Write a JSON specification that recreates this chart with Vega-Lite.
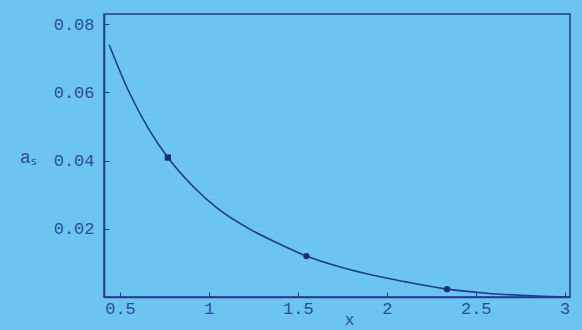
{
  "$schema": "https://vega.github.io/schema/vega-lite/v6.json",
  "width": 466,
  "height": 283,
  "autosize": {"type": "none"},
  "padding": {"left": 104, "top": 14, "right": 12, "bottom": 33},
  "background": "#6cc5f0",
  "config": {
    "view": {"stroke": "#1e3c8c", "strokeWidth": 1.5},
    "font": "Liberation Mono"
  },
  "layer": [
    {
      "data": {"values": [
        {"x": 0.439, "y": 0.0740},
        {"x": 0.55, "y": 0.0602},
        {"x": 0.66, "y": 0.0494},
        {"x": 0.769, "y": 0.0409},
        {"x": 0.9, "y": 0.0330},
        {"x": 1.05, "y": 0.0259},
        {"x": 1.229, "y": 0.0199},
        {"x": 1.411, "y": 0.0152},
        {"x": 1.548, "y": 0.0120},
        {"x": 1.743, "y": 0.0087},
        {"x": 1.910, "y": 0.0065},
        {"x": 2.099, "y": 0.0045},
        {"x": 2.339, "y": 0.0023},
        {"x": 2.562, "y": 0.0011},
        {"x": 2.843, "y": 0.0003},
        {"x": 3.03, "y": 0.0}
      ]},
      "mark": {"type": "line", "color": "#1e3c8c", "strokeWidth": 1.6, "interpolate": "monotone"},
      "encoding": {
        "x": {
          "field": "x", "type": "quantitative",
          "scale": {"domain": [0.41, 3.03], "nice": false, "zero": false},
          "axis": {
            "values": [0.5, 1, 1.5, 2, 2.5, 3], "format": "~g", "grid": false,
            "labelFont": "Liberation Mono", "labelFontSize": 17, "labelColor": "#2b4c9c",
            "labelPadding": 8, "tickSize": -5, "tickColor": "#1e3c8c", "domainColor": "#1e3c8c", "domainWidth": 1.5,
            "title": "x", "titleFont": "Liberation Mono", "titleFontSize": 16, "titleFontWeight": "normal",
            "titleColor": "#2b4c9c", "titleBaseline": "alphabetic", "titleAlign": "center", "titleX": 245, "titleY": 27
          }
        },
        "y": {
          "field": "y", "type": "quantitative",
          "scale": {"domain": [0, 0.0830], "nice": false},
          "axis": {
            "values": [0.02, 0.04, 0.06, 0.08], "format": ".2f", "grid": false,
            "labelFont": "Liberation Mono", "labelFontSize": 17, "labelColor": "#2b4c9c",
            "labelPadding": 15, "tickSize": -5, "tickColor": "#1e3c8c", "domainColor": "#1e3c8c", "domainWidth": 1.5,
            "title": "aₛ", "titleFont": "Liberation Mono", "titleFontSize": 18, "titleFontWeight": "normal",
            "titleColor": "#2b4c9c", "titleAngle": 0, "titleAlign": "center", "titleBaseline": "middle",
            "titleX": -76, "titleY": 143
          }
        }
      }
    },
    {
      "data": {"values": [
        {"x": 0.769, "y": 0.0409, "marker": "square"},
        {"x": 1.548, "y": 0.0120, "marker": "circle"},
        {"x": 2.339, "y": 0.0023, "marker": "circle"}
      ]},
      "mark": {"type": "point", "filled": true, "color": "#1a2f70", "size": 40, "opacity": 1},
      "encoding": {
        "x": {"field": "x", "type": "quantitative"},
        "y": {"field": "y", "type": "quantitative"},
        "shape": {"field": "marker", "type": "nominal", "scale": {"domain": ["square", "circle"], "range": ["square", "circle"]}, "legend": null}
      }
    }
  ]
}
